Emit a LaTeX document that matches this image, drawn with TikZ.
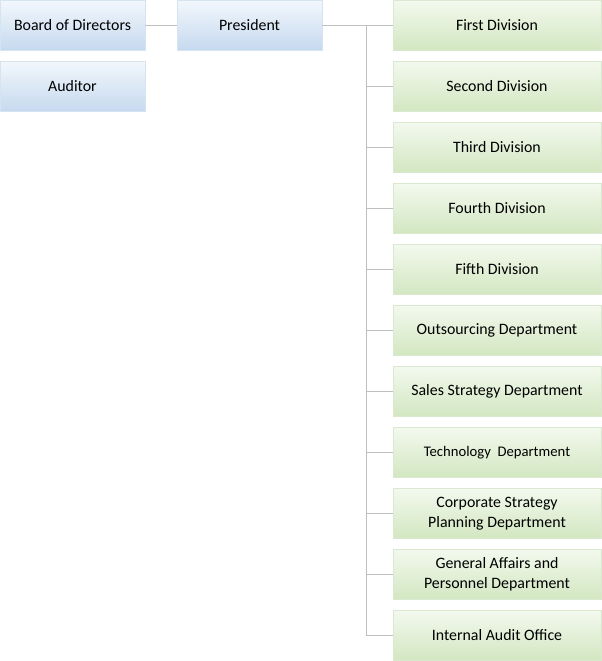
\documentclass[tikz,border=0pt]{standalone}
\usepackage{fontspec}
\setmainfont{Carlito}
\definecolor{bluetop}{HTML}{F2F7FC}
\definecolor{bluebot}{HTML}{C5D9EF}
\definecolor{greentop}{HTML}{F3F9EE}
\definecolor{greenbot}{HTML}{D2E7C1}
\definecolor{edgeb}{HTML}{D6E3F1}
\definecolor{edgeg}{HTML}{D9E8CF}
\definecolor{linec}{HTML}{BFBFBF}
\begin{document}
\begin{tikzpicture}[x=0.75pt,y=-0.75pt,
  box/.style={rectangle,inner sep=0pt,align=center,font=\fontsize{11.9}{15}\selectfont,text=black},
  bluebox/.style={box,top color=bluetop,bottom color=bluebot,draw=edgeb,line width=0.6pt,minimum width=108.75pt,minimum height=37.5pt},
  greenbox/.style={box,top color=greentop,bottom color=greenbot,draw=edgeg,line width=0.6pt,minimum width=156pt,minimum height=37.5pt},
  conn/.style={draw=linec,line width=0.75pt}]
\useasboundingbox (0,0) rectangle (601,661);
\node[bluebox] (board) at (72.5,25.5) {Board of Directors};
\node[bluebox] (auditor) at (72.5,86.5) {Auditor};
\node[bluebox] (pres) at (249.5,25.5) {President};
\foreach \n/\y/\t in {d1/25/First Division,d2/86/Second Division,d3/147/Third Division,d4/208/Fourth Division,d5/269/Fifth Division,d6/330/Outsourcing Department,d7/391/Sales Strategy Department,d8/452/{\fontsize{11}{14}\selectfont Technology\ \ Department},d9/513/Corporate Strategy\\Planning Department,d10/574/General Affairs and\\Personnel Department,d11/635/Internal Audit Office}
  \node[greenbox] (\n) at (497,\y+0.5) {\t};
\coordinate (trunk) at (366,25.5);
\draw[conn] (board) -- (pres);
\draw[conn] (pres) -- (d1);
\draw[conn] (trunk) |- (d11);
\foreach \n in {d2,d3,d4,d5,d6,d7,d8,d9,d10}
  \draw[conn] (trunk |- \n.west) -- (\n.west);
\end{tikzpicture}
\end{document}
